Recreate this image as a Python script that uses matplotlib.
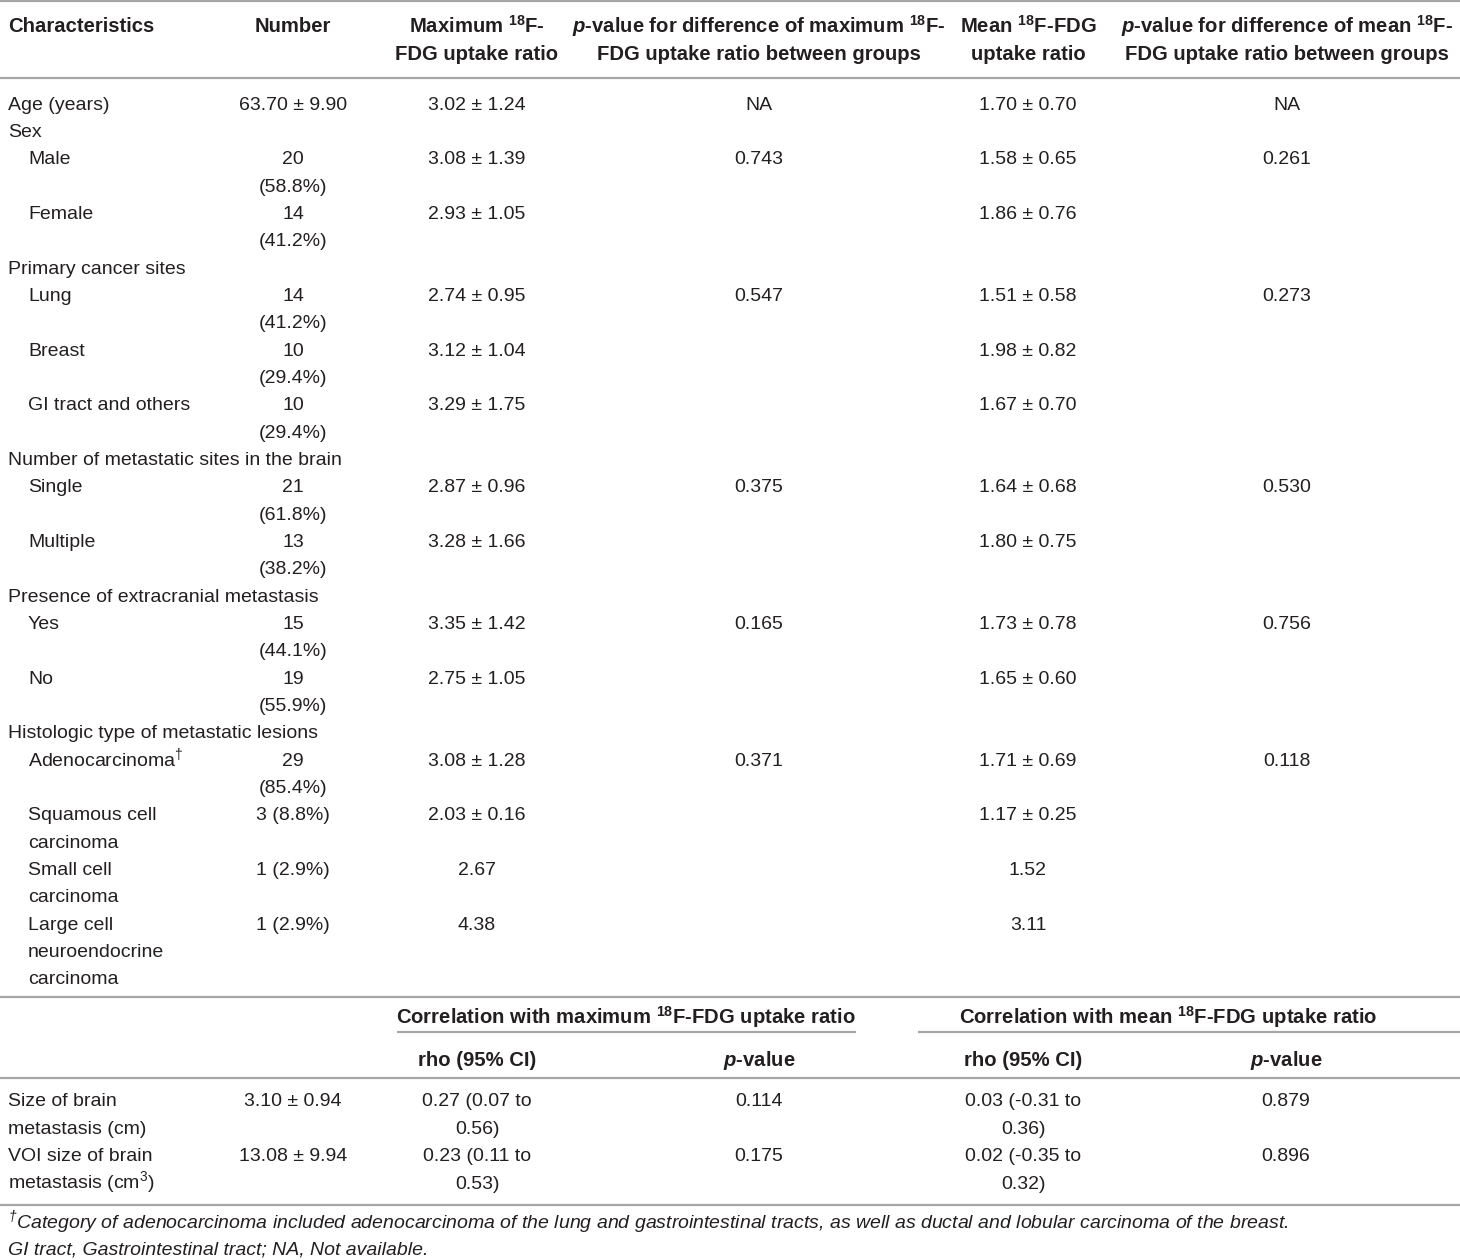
import matplotlib
matplotlib.use("Agg")
import matplotlib.pyplot as plt
from matplotlib import font_manager

names = set(f.name for f in font_manager.fontManager.ttflist)
FONT = "Liberation Sans Narrow" if "Liberation Sans Narrow" in names else "Liberation Sans"
plt.rcParams['font.family'] = [FONT, 'DejaVu Sans']
plt.rcParams['mathtext.fontset'] = 'custom'
plt.rcParams['mathtext.default'] = 'regular'
plt.rcParams['mathtext.rm'] = FONT
plt.rcParams['mathtext.it'] = FONT + ':italic'
plt.rcParams['mathtext.bf'] = FONT + ':bold'
plt.rcParams['mathtext.bfit'] = FONT + ':italic:bold'

# ---- table data ----
headers = ["Characteristics", "Number", "Maximum $^{18}$F-\nFDG uptake ratio",
           "$\\mathbfit{p}$-value for difference of maximum $^{18}$F-\nFDG uptake ratio between groups",
           "Mean $^{18}$F-FDG\nuptake ratio",
           "$\\mathbfit{p}$-value for difference of mean $^{18}$F-\nFDG uptake ratio between groups"]

chars = ["Age (years)", "Sex", "Male", "Female", "Primary cancer sites", "Lung", "Breast",
         "GI tract and others", "Number of metastatic sites in the brain", "Single", "Multiple",
         "Presence of extracranial metastasis", "Yes", "No", "Histologic type of metastatic lesions",
         "Adenocarcinoma$^{†}$", "Squamous cell\ncarcinoma", "Small cell\ncarcinoma",
         "Large cell\nneuroendocrine\ncarcinoma"]
indent = [0, 0, 1, 1, 0, 1, 1, 1, 0, 1, 1, 0, 1, 1, 0, 1, 1, 1, 1]
numbers = ["63.70 ± 9.90", "", "20\n(58.8%)", "14\n(41.2%)", "", "14\n(41.2%)", "10\n(29.4%)",
           "10\n(29.4%)", "", "21\n(61.8%)", "13\n(38.2%)", "", "15\n(44.1%)", "19\n(55.9%)", "",
           "29\n(85.4%)", "3 (8.8%)", "1 (2.9%)", "1 (2.9%)"]
max_ratio = ["3.02 ± 1.24", "", "3.08 ± 1.39", "2.93 ± 1.05", "", "2.74 ± 0.95", "3.12 ± 1.04",
             "3.29 ± 1.75", "", "2.87 ± 0.96", "3.28 ± 1.66", "", "3.35 ± 1.42", "2.75 ± 1.05", "",
             "3.08 ± 1.28", "2.03 ± 0.16", "2.67", "4.38"]
p_max = ["NA", "", "0.743", "", "", "0.547", "", "", "", "0.375", "", "", "0.165", "", "",
         "0.371", "", "", ""]
mean_ratio = ["1.70 ± 0.70", "", "1.58 ± 0.65", "1.86 ± 0.76", "", "1.51 ± 0.58", "1.98 ± 0.82",
              "1.67 ± 0.70", "", "1.64 ± 0.68", "1.80 ± 0.75", "", "1.73 ± 0.78", "1.65 ± 0.60", "",
              "1.71 ± 0.69", "1.17 ± 0.25", "1.52", "3.11"]
p_mean = ["NA", "", "0.261", "", "", "0.273", "", "", "", "0.530", "", "", "0.756", "", "",
          "0.118", "", "", ""]

corr_groups = ["Correlation with maximum $^{18}$F-FDG uptake ratio",
               "Correlation with mean $^{18}$F-FDG uptake ratio"]
corr_sub = ["rho (95% CI)", "$\\mathbfit{p}$-value", "rho (95% CI)", "$\\mathbfit{p}$-value"]
size_names = ["Size of brain\nmetastasis (cm)", "VOI size of brain\nmetastasis (cm$^{3}$)"]
size_values = ["3.10 ± 0.94", "13.08 ± 9.94"]
rho_max = ["0.27 (0.07 to\n0.56)", "0.23 (0.11 to\n0.53)"]
p_rho_max = ["0.114", "0.175"]
rho_mean = ["0.03 (-0.31 to\n0.36)", "0.02 (-0.35 to\n0.32)"]
p_rho_mean = ["0.879", "0.896"]

footnotes = ["$^{†}$Category of adenocarcinoma included adenocarcinoma of the lung and gastrointestinal tracts, as well as ductal and lobular carcinoma of the breast.",
             "GI tract, Gastrointestinal tract; NA, Not available."]

# ---- layout ----
W, H = 1460, 1260
fig = plt.figure(figsize=(W / 100, H / 100), dpi=100)
ax = fig.add_axes([0, 0, 1, 1])
ax.set_xlim(0, W)
ax.set_ylim(H, 0)
ax.axis('off')

FS = 14
FS_BOLD = 14.6
LH = 27.34
BASE = 6.5  # baseline sits a bit below the visual line centre
TXT = '#231f20'
RULE = '#a6a6a6'
col_x = [8, 293, 477, 759, 1028, 1287]


def put(x, y, s, ha='center', weight='normal', style='normal'):
    fs = FS_BOLD if weight == 'bold' else FS
    for i, line in enumerate(s.split('\n')):
        ax.text(x, y + i * LH + BASE, line, ha=ha, va='baseline', fontsize=fs, color=TXT,
                fontweight=weight, fontstyle=style)


def rule(y, x0=0, x1=W):
    ax.plot([x0, x1], [y, y], color=RULE, lw=1.6, solid_capstyle='butt')


rule(1)
for j, h in enumerate(headers):
    put(col_x[j], 26, h, ha='left' if j == 0 else 'center', weight='bold')
rule(78)

y = 103
for i in range(len(chars)):
    put(8 + 20 * indent[i], y, chars[i], ha='left')
    cells = [numbers[i], max_ratio[i], p_max[i], mean_ratio[i], p_mean[i]]
    for j, c in enumerate(cells):
        if c:
            put(col_x[j + 1], y, c)
    nl = max(s.count('\n') + 1 for s in [chars[i]] + cells)
    y += nl * LH

rule(997)
put(626, 1017, corr_groups[0], weight='bold')
put(1168, 1017, corr_groups[1], weight='bold')
rule(1032, 397, 856)
rule(1032, 918, W)
sub_x = [477, 759, 1023, 1286]
for x, s in zip(sub_x, corr_sub):
    put(x, 1060, s, weight='bold')
rule(1078)

y = 1100
for i in range(len(size_names)):
    put(8, y, size_names[i], ha='left')
    put(293, y, size_values[i])
    put(sub_x[0], y, rho_max[i])
    put(sub_x[1], y, p_rho_max[i])
    put(sub_x[2], y, rho_mean[i])
    put(sub_x[3], y, p_rho_mean[i])
    y += 2 * LH
rule(1205)

put(8, 1222, footnotes[0], ha='left', style='italic')
put(8, 1248, footnotes[1], ha='left', style='italic')

fig.savefig('out.png', dpi=100, facecolor='white')
